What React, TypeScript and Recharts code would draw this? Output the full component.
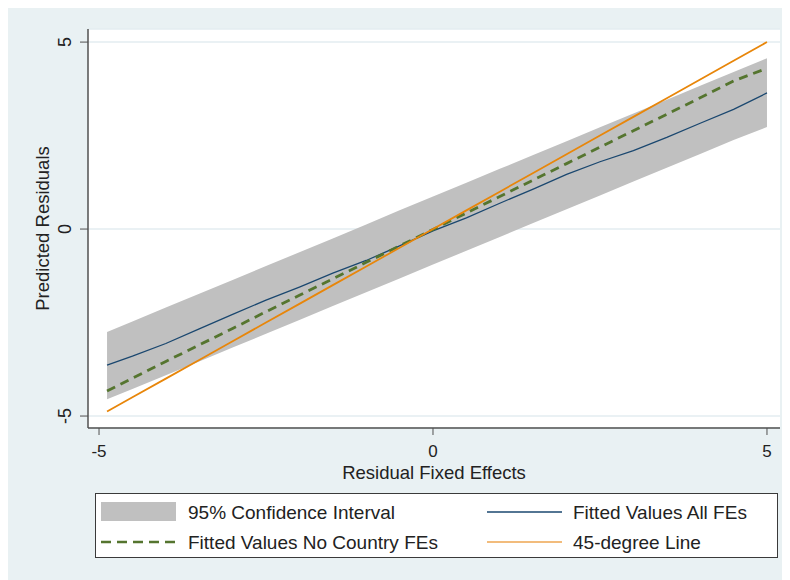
import { ComposedChart, Area, Line, XAxis, YAxis, CartesianGrid } from "recharts";

const xValues = [-4.88, -4.5, -4, -3.5, -3, -2.5, -2, -1.5, -1, -0.5, 0, 0.5, 1, 1.5, 2, 2.5, 3, 3.5, 4, 4.5, 5];
const fittedAll = [-3.64, -3.4, -3.06, -2.67, -2.28, -1.9, -1.55, -1.18, -0.84, -0.45, -0.05, 0.3, 0.69, 1.07, 1.46, 1.8, 2.1, 2.45, 2.83, 3.2, 3.64];
const fittedNoCountry = [-4.33, -3.99, -3.54, -3.1, -2.66, -2.21, -1.77, -1.33, -0.89, -0.45, -0.01, 0.43, 0.87, 1.31, 1.75, 2.19, 2.63, 3.07, 3.51, 3.96, 4.3];
const ciUpper = [-2.75, -2.47, -2.1, -1.73, -1.36, -0.99, -0.62, -0.25, 0.12, 0.5, 0.87, 1.24, 1.61, 1.98, 2.35, 2.72, 3.09, 3.46, 3.83, 4.2, 4.57];
const ciLower = [-4.55, -4.28, -3.91, -3.54, -3.17, -2.8, -2.43, -2.06, -1.69, -1.32, -0.95, -0.58, -0.21, 0.16, 0.53, 0.9, 1.27, 1.64, 2.01, 2.38, 2.73];
const line45 = [-4.88, -4.5, -4, -3.5, -3, -2.5, -2, -1.5, -1, -0.5, 0, 0.5, 1, 1.5, 2, 2.5, 3, 3.5, 4, 4.5, 5];
const axisTicks = [-5, 0, 5];

const data = xValues.map((x, i) => ({
  x,
  ci: [ciLower[i], ciUpper[i]],
  all: fittedAll[i],
  noCountry: fittedNoCountry[i],
  deg45: line45[i],
}));

const FONT = "'Liberation Sans', Arial, sans-serif";
const BG = "#e9f1f3";
const BLUE = "#1a476f";
const GREEN = "#55752f";
const ORANGE = "#e8860a";
const GRAY = "#c0c0c0";

const XTick = (props: any) => {
  const { x, y, payload } = props;
  return (
    <text x={x} y={y + 14} textAnchor="middle" dominantBaseline="central" fontSize={17} fontFamily={FONT} fill="#222">
      {payload.value}
    </text>
  );
};

const YTick = (props: any) => {
  const { x, y, payload } = props;
  const cx = x - 13;
  return (
    <text x={cx} y={y} textAnchor="middle" dominantBaseline="central" fontSize={18} fontFamily={FONT} fill="#222" transform={`rotate(-90 ${cx} ${y})`}>
      {payload.value}
    </text>
  );
};

const XTitle = (props: any) => {
  const vb = props.viewBox;
  return (
    <text x={vb.x + vb.width / 2} y={vb.y + 44} textAnchor="middle" dominantBaseline="central" fontSize={18.5} fontFamily={FONT} fill="#222">
      Residual Fixed Effects
    </text>
  );
};

const YTitle = (props: any) => {
  const vb = props.viewBox;
  const cy = vb.y + vb.height / 2;
  return (
    <text x={34} y={cy} textAnchor="middle" dominantBaseline="central" fontSize={18.5} fontFamily={FONT} fill="#222" transform={`rotate(-90 34 ${cy})`}>
      Predicted Residuals
    </text>
  );
};

const ChartLegend = () => (
  <svg width={683} height={65} style={{ position: "absolute", left: 87, top: 485 }}>
    <rect x={0.5} y={0.5} width={682} height={64} fill="#fff" stroke="#3a3a3a" strokeWidth={1} />
    <rect x={6} y={9} width={75} height={19} fill={GRAY} />
    <text x={93} y={19} dominantBaseline="central" fontSize={19} fontFamily={FONT} fill="#222">95% Confidence Interval</text>
    <line x1={392} x2={467} y1={19} y2={19} stroke={BLUE} strokeWidth={1.5} />
    <text x={478} y={19} dominantBaseline="central" fontSize={19} fontFamily={FONT} fill="#222">Fitted Values All FEs</text>
    <line x1={6} x2={81} y1={49} y2={49} stroke={GREEN} strokeWidth={2.5} strokeDasharray="10 6" />
    <text x={93} y={49} dominantBaseline="central" fontSize={19} fontFamily={FONT} fill="#222">Fitted Values No Country FEs</text>
    <line x1={392} x2={467} y1={49} y2={49} stroke="#eea650" strokeWidth={1.5} />
    <text x={478} y={49} dominantBaseline="central" fontSize={19} fontFamily={FONT} fill="#222">45-degree Line</text>
  </svg>
);

export default function App() {
  return (
    <div style={{ position: "relative", width: 782, height: 572, background: BG }}>
      <ComposedChart width={782} height={480} data={data} margin={{ top: 21, right: 10, bottom: 0, left: 0 }}>
        <CartesianGrid vertical={false} stroke="#e3edf0" strokeWidth={1.5} fill="#ffffff" />
        <XAxis
          type="number"
          dataKey="x"
          domain={[-5.165, 5.195]}
          ticks={axisTicks}
          allowDataOverflow
          height={60}
          tickSize={7}
          tick={<XTick />}
          axisLine={{ stroke: "#505050", strokeWidth: 1.5 }}
          tickLine={{ stroke: "#505050" }}
          label={<XTitle />}
        />
        <YAxis
          type="number"
          domain={[-5.32, 5.35]}
          ticks={axisTicks}
          allowDataOverflow
          width={80}
          tickSize={8}
          tick={<YTick />}
          axisLine={{ stroke: "#505050", strokeWidth: 1.5 }}
          tickLine={{ stroke: "#505050" }}
          label={<YTitle />}
        />
        <Area type="linear" dataKey="ci" fill={GRAY} fillOpacity={1} stroke="none" isAnimationActive={false} />
        <Line type="linear" dataKey="all" stroke={BLUE} strokeWidth={1.3} dot={false} isAnimationActive={false} />
        <Line type="linear" dataKey="noCountry" stroke={GREEN} strokeWidth={2.8} strokeDasharray="9 6" dot={false} isAnimationActive={false} />
        <Line type="linear" dataKey="deg45" stroke={ORANGE} strokeWidth={1.8} dot={false} isAnimationActive={false} />
      </ComposedChart>
      <ChartLegend />
    </div>
  );
}
